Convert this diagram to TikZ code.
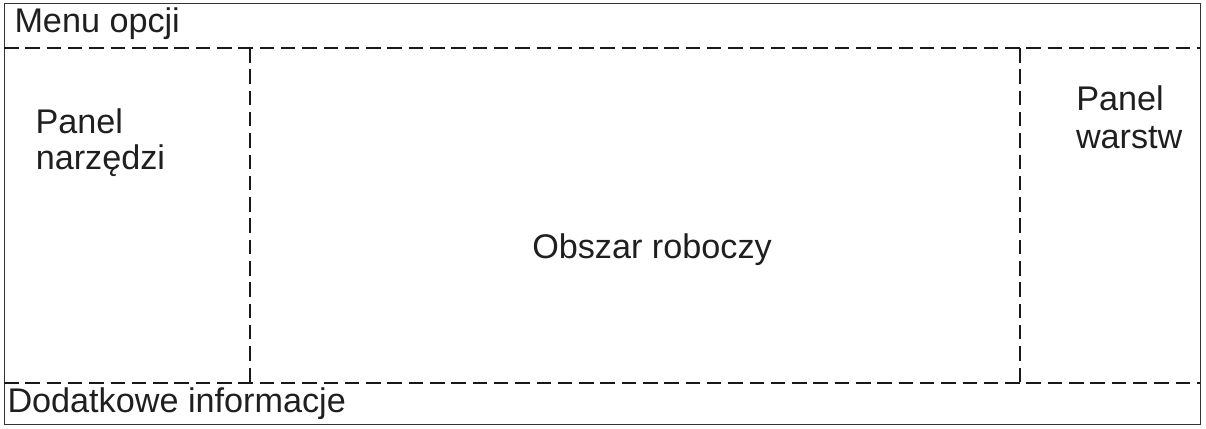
\documentclass[tikz,border=0pt]{standalone}
\usepackage{fontspec}
\setmainfont{Liberation Sans}
\tikzset{
  frame/.style={draw=black!80, line width=1pt},
  divider/.style={draw=black!90, line width=1.1pt, dash pattern=on 14.5pt off 6.8pt},
  lbl/.style={inner sep=0pt, outer sep=0pt, text=black!88, font=\fontsize{34.2}{37}\selectfont},
}
\begin{document}
\begin{tikzpicture}[x=1pt,y=-1pt]
\useasboundingbox (0,0) rectangle (1206,428);
\coordinate (tl) at (4,4);
\coordinate (br) at (1200,424);
\coordinate (hl1) at (4,48);
\coordinate (hr1) at (1200,48);
\coordinate (hl2) at (4,383);
\coordinate (hr2) at (1200,383);
\coordinate (v1t) at (250,48);
\coordinate (v1b) at (250,383);
\coordinate (v2t) at (1020,48);
\coordinate (v2b) at (1020,383);
\draw[frame] (tl) rectangle (br);
\draw[divider] (hl1) -- (hr1);
\draw[divider] (hl2) -- (hr2);
\draw[divider] (v1t) -- (v1b);
\draw[divider] (v2t) -- (v2b);
\node[lbl, anchor=base west] (menu) at (14.5,33) {Menu opcji};
\node[lbl, anchor=base west] (info) at (7.5,412) {Dodatkowe informacje};
\node[lbl, anchor=base west] (tools1) at (35.5,133) {Panel};
\node[lbl, anchor=base west] (tools2) at (35.8,169) {narzędzi};
\node[lbl, anchor=base west] (layers1) at (1076.3,110) {Panel};
\node[lbl, anchor=base west] (layers2) at (1076,148) {warstw};
\node[lbl, anchor=base] (work) at (652,258) {Obszar roboczy};
\end{tikzpicture}
\end{document}
